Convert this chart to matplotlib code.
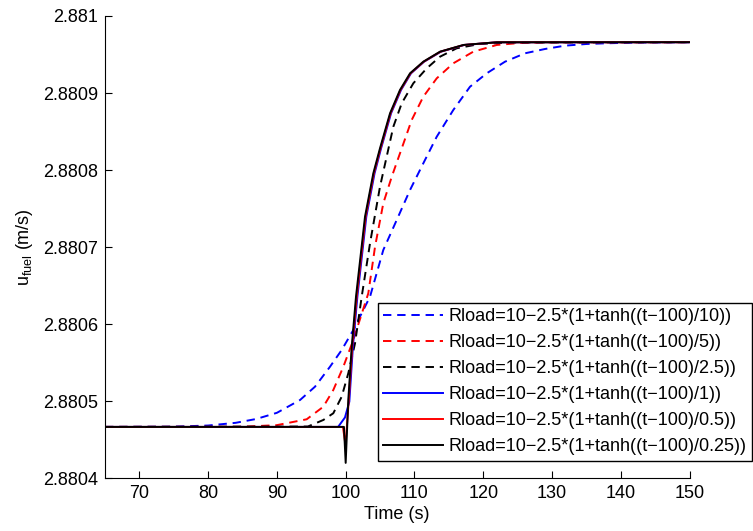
import matplotlib
matplotlib.use("Agg")
import matplotlib.pyplot as plt

plt.rcParams['font.family'] = ['Liberation Sans', 'DejaVu Sans']
plt.rcParams['mathtext.default'] = 'regular'

# Fuel velocity response to a tanh-shaped load step, for several step widths
t_w10 = [65, 75, 80, 84, 87, 90, 93.36, 95.54, 97.72, 99.42, 101.11, 103.54, 105.47,
         107.42, 109.36, 111.29, 113.24, 115.65, 118.08, 120.51, 123.17, 126.08,
         128.99, 131.9, 135.06, 137.96, 142.8, 150]
u_w10 = [2.8804667, 2.8804670, 2.8804685, 2.8804720, 2.8804770, 2.8804850, 2.8805016,
         2.8805189, 2.8805448, 2.8805665, 2.8805925, 2.8806357, 2.8806963, 2.8807352,
         2.8807742, 2.8808088, 2.8808433, 2.8808780, 2.8809082, 2.8809256, 2.8809407,
         2.8809516, 2.8809572, 2.8809615, 2.8809637, 2.8809646, 2.8809656, 2.8809660]

t_w5 = [65, 85, 90, 94.33, 96.75, 98.2, 99.66, 101.11, 103.29, 104.27, 105.47, 106.7,
        107.9, 109.6, 111.29, 113.24, 115.65, 118.56, 121.97, 125.35, 130, 150]
u_w5 = [2.8804667, 2.8804669, 2.8804690, 2.8804766, 2.8804929, 2.8805146, 2.8805448,
        2.8805795, 2.8806401, 2.8807006, 2.8807569, 2.8807914, 2.8808218, 2.8808650,
        2.8808953, 2.8809191, 2.8809386, 2.8809537, 2.8809624, 2.8809650, 2.8809658,
        2.8809660]

t_w25 = [65, 94.5, 96.75, 98.2, 99.42, 100.38, 101.36, 102.33, 103.54, 104.99, 106.93,
         108.15, 109.84, 111.79, 113.72, 116.15, 119.54, 123.9, 150]
u_w25 = [2.8804667, 2.8804672, 2.8804757, 2.8804844, 2.8805059, 2.8805363, 2.8805752,
         2.8806357, 2.8807050, 2.8807785, 2.8808563, 2.8808867, 2.8809127, 2.8809321,
         2.8809472, 2.8809581, 2.8809637, 2.8809656, 2.8809660]

t_w1 = [65, 98.9, 99.9, 100.53, 101.05, 101.7, 103.0, 104.2, 105.15, 106.6, 108.05,
        109.5, 111.4, 113.85, 117.25, 122.05, 150]
u_w1 = [2.8804667, 2.8804667, 2.8804790, 2.8804994, 2.8805708, 2.8806357, 2.8807395,
        2.8807958, 2.8808283, 2.8808737, 2.8809040, 2.8809256, 2.8809407, 2.8809537,
        2.8809624, 2.8809659, 2.8809660]

t_w05 = [65, 99.6, 99.98, 100.45, 100.95, 101.6, 102.9, 104.1, 105.07, 106.52, 107.97,
         109.43, 111.35, 113.78, 117.18, 122.0, 150]
u_w05 = [2.8804667, 2.8804667, 2.8804430, 2.8805016, 2.8805708, 2.8806357, 2.8807395,
         2.8807958, 2.8808283, 2.8808737, 2.8809040, 2.8809256, 2.8809407, 2.8809537,
         2.8809624, 2.8809659, 2.8809660]

t_w025 = [65, 99.75, 100.0, 100.38, 100.88, 101.5, 102.81, 104.02, 104.99, 106.45, 107.9,
          109.36, 111.29, 113.72, 117.11, 121.97, 150]
u_w025 = [2.8804667, 2.8804667, 2.8804200, 2.8805016, 2.8805708, 2.8806357, 2.8807395,
          2.8807958, 2.8808283, 2.8808737, 2.8809040, 2.8809256, 2.8809407, 2.8809537,
          2.8809624, 2.8809659, 2.8809660]

labels = [
    "Rload=10\u22122.5*(1+tanh((t\u2212100)/10))",
    "Rload=10\u22122.5*(1+tanh((t\u2212100)/5))",
    "Rload=10\u22122.5*(1+tanh((t\u2212100)/2.5))",
    "Rload=10\u22122.5*(1+tanh((t\u2212100)/1))",
    "Rload=10\u22122.5*(1+tanh((t\u2212100)/0.5))",
    "Rload=10\u22122.5*(1+tanh((t\u2212100)/0.25))",
]

xticks = [70, 80, 90, 100, 110, 120, 130, 140, 150]
yticks = [2.8804, 2.8805, 2.8806, 2.8807, 2.8808, 2.8809, 2.881]
ytick_labels = ["2.8804", "2.8805", "2.8806", "2.8807", "2.8808", "2.8809", "2.881"]

fig = plt.figure(figsize=(7.53, 5.31), dpi=100)
ax = fig.add_axes([105 / 753, 1 - 478.3 / 531, 584.5 / 753, 462.3 / 531])

lw = 1.4
dash = (4.3, 3.0)
series = [
    (t_w10, u_w10, "#0000ff", "--"),
    (t_w5, u_w5, "#ff0000", "--"),
    (t_w25, u_w25, "#000000", "--"),
    (t_w1, u_w1, "#0000ff", "-"),
    (t_w05, u_w05, "#ff0000", "-"),
    (t_w025, u_w025, "#000000", "-"),
]
for (t, u, c, ls), lab in zip(series, labels):
    if ls == "--":
        ax.plot(t, u, color=c, lw=lw, dashes=dash, label=lab)
    else:
        ax.plot(t, u, color=c, lw=lw, label=lab)

ax.set_xlim(65, 150)
ax.set_ylim(2.8804, 2.881)
ax.set_xticks(xticks)
ax.set_xticklabels([str(v) for v in xticks])
ax.set_yticks(yticks)
ax.set_yticklabels(ytick_labels)
ax.tick_params(direction="in", length=5, width=0.8, labelsize=13, pad=5)
for side in ("top", "right"):
    ax.spines[side].set_visible(False)
for side in ("left", "bottom"):
    ax.spines[side].set_linewidth(0.8)

ax.set_xlabel("Time (s)", fontsize=13, labelpad=3)
ax.set_ylabel(r"$u_{fuel}$ (m/s)", fontsize=13, labelpad=6)

leg = ax.legend(loc="upper right", bbox_to_anchor=(751.7 / 753, 1 - 302.7 / 531),
                bbox_transform=fig.transFigure, borderaxespad=0, fontsize=13,
                fancybox=False, framealpha=1, edgecolor="black",
                handlelength=3.3, handletextpad=0.3, labelspacing=0.5,
                borderpad=0.3)
leg.get_frame().set_linewidth(1.0)

fig.savefig("out.png", dpi=100)
